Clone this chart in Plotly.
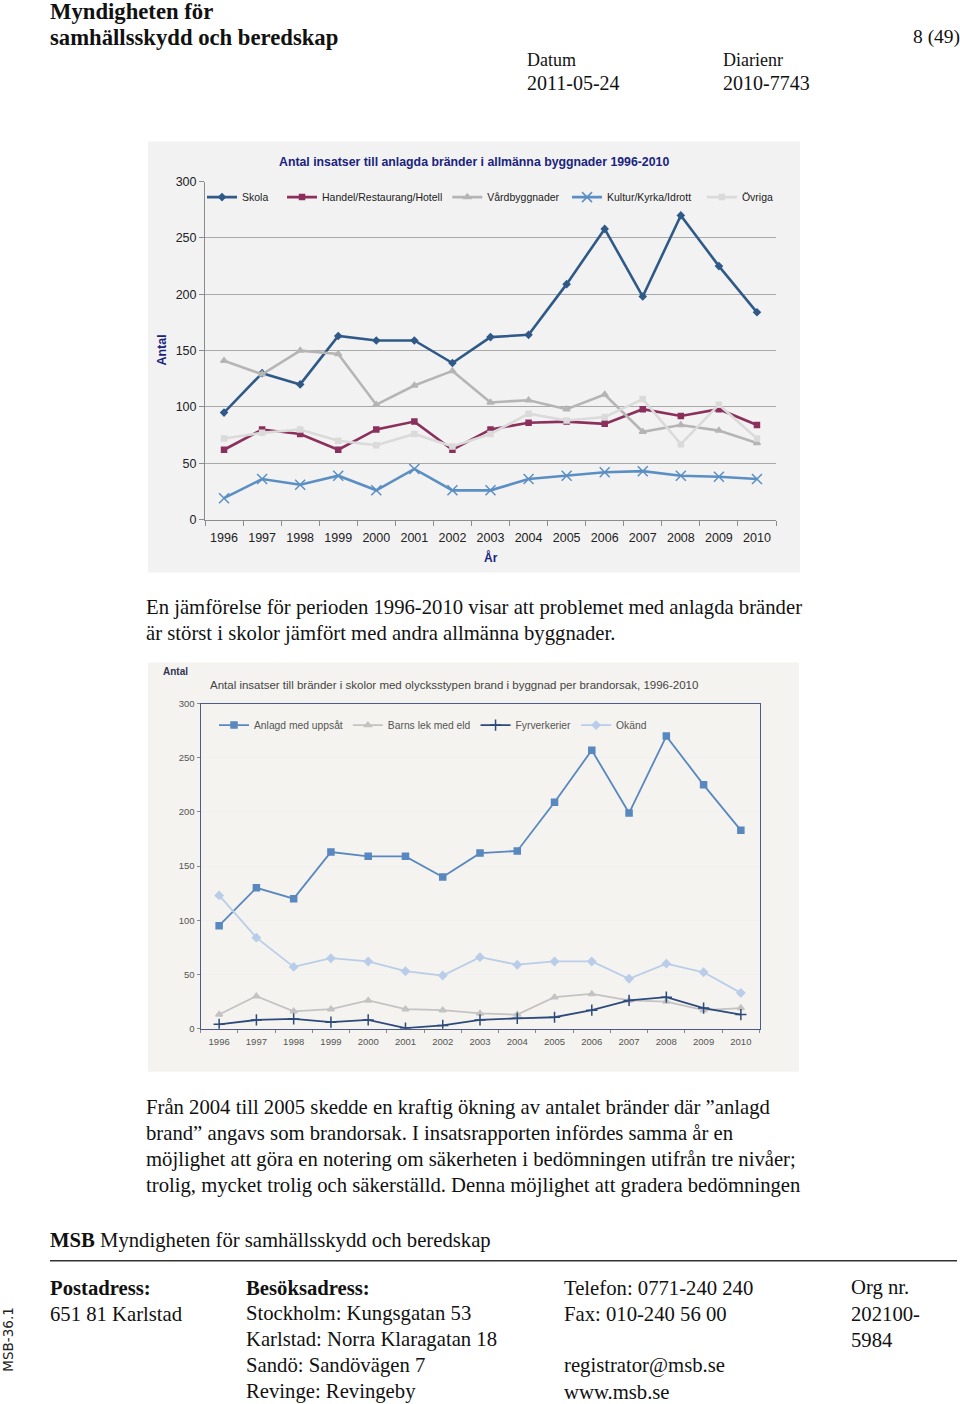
import plotly.graph_objects as go

W, H = 960, 1404

years = [str(y) for y in range(1996, 2011)]

# Chart 1: Antal insatser till anlagda bränder i allmänna byggnader
skola = [95, 130, 120, 163, 159, 159, 139, 162, 164, 209, 258, 198, 270, 225, 184]
handel = [62, 80, 76, 62, 80, 87, 62, 80, 86, 87, 85, 98, 92, 98, 84]
vard = [141, 129, 150, 147, 102, 119, 132, 104, 106, 98, 111, 78, 84, 79, 68]
kultur = [19, 36, 31, 39, 26, 45, 26, 26, 36, 39, 42, 43, 39, 38, 36]
ovriga = [72, 77, 80, 70, 66, 76, 65, 76, 94, 88, 91, 107, 67, 102, 72]

# Chart 2: skolor per brandorsak
anlagd = [95, 130, 120, 163, 159, 159, 140, 162, 164, 209, 257, 199, 270, 225, 183]
barns = [13, 30, 16, 18, 26, 18, 17, 14, 13, 29, 32, 26, 25, 17, 19]
fyrverkerier = [4, 8, 9, 6, 8, 0.5, 3, 8, 9.5, 10.5, 17, 26, 29, 19, 13]
okand = [123, 84, 57, 65, 62, 53, 49, 66, 59, 62, 62, 46, 60, 52, 33]

yticks = [0, 50, 100, 150, 200, 250, 300]

# the page photo is slightly squeezed vertically; compensate
YOFF, YSCALE = 6.4, 0.99


def px(x):
    return x / W


def py(y):
    return 1 - ((y - YOFF) / YSCALE) / H


SANS = "Liberation Sans, Arial, sans-serif"
SERIF = "Liberation Serif, Georgia, serif"
NB = "\u00a0"

fig = go.Figure()

series1 = [
    ("Skola" + NB * 3, skola, "#2f5a88", dict(symbol="diamond", size=5)),
    ("Handel/Restaurang/Hotell", handel, "#8b2f5c", dict(symbol="square", size=5)),
    ("Vårdbyggnader" + NB, vard, "#b5b5b5", dict(symbol="triangle-up", size=6)),
    ("Kultur/Kyrka/Idrott" + NB * 2, kultur, "#5b8fc4", dict(symbol="x-thin", size=10)),
    ("Övriga", ovriga, "#dadada", dict(symbol="square", size=5)),
]
for name, vals, col, mk in series1:
    mk = dict(mk, color=col, line=dict(color=col, width=1.5))
    fig.add_trace(go.Scatter(x=years, y=vals, name=name, mode="lines+markers",
                             line=dict(color=col, width=2.6), marker=mk,
                             xaxis="x", yaxis="y", legend="legend"))

series2 = [
    ("Anlagd med uppsåt", anlagd, "#5888bf", dict(symbol="square", size=6)),
    ("Barns lek med eld", barns, "#c3c3c3", dict(symbol="triangle-up", size=6)),
    ("Fyrverkerier", fyrverkerier, "#2d4a7c", dict(symbol="cross-thin", size=8)),
    ("Okänd", okand, "#b9cde9", dict(symbol="diamond", size=6)),
]
for name, vals, col, mk in series2:
    mk = dict(mk, color=col, line=dict(color=col, width=1.5))
    fig.add_trace(go.Scatter(x=years, y=vals, name=name, mode="lines+markers",
                             line=dict(color=col, width=1.8), marker=mk,
                             xaxis="x2", yaxis="y2", legend="legend2"))

shapes = [
    # chart panels
    dict(type="rect", xref="paper", yref="paper", x0=px(148), x1=px(800), y0=py(572), y1=py(141),
         fillcolor="#f2f2f2", line=dict(width=0), layer="below"),
    dict(type="rect", xref="paper", yref="paper", x0=px(148), x1=px(799), y0=py(1071), y1=py(662),
         fillcolor="#f4f3ef", line=dict(width=0), layer="below"),
    # footer rule
    dict(type="line", xref="paper", yref="paper", x0=px(50), x1=px(957), y0=py(1260), y1=py(1260),
         line=dict(color="#333333", width=1.5)),
]

ann = []


def text(x, y, s, size, font=SERIF, color="#111111", xanchor="left", bold=False, angle=0):
    if bold:
        s = "<b>" + s + "</b>"
    if xanchor == "left":
        x -= 2
    elif xanchor == "right":
        x += 2
    ann.append(dict(x=px(x), y=py(y), xref="paper", yref="paper", text=s, showarrow=False,
                    xanchor=xanchor, yanchor="middle", textangle=angle,
                    font=dict(family=font, size=size, color=color)))


BODY = 20.7

# header
text(50, 11, "Myndigheten för", 22.7, bold=True)
text(50, 37, "samhällsskydd och beredskap", 22.7, bold=True)
text(960, 36, "8 (49)", 19.5, xanchor="right")
text(527, 59, "Datum", 18)
text(527, 82, "2011-05-24", 20)
text(723, 59, "Diarienr", 18)
text(723, 82, "2010-7743", 20)

# chart 1 texts
text(474, 161, "Antal insatser till anlagda bränder i allmänna byggnader 1996-2010", 12.3,
     font=SANS, color="#1a237e", xanchor="center", bold=True)
text(162, 350, "Antal", 12.5, font=SANS, color="#1a237e", xanchor="center", bold=True, angle=-90)
text(491, 557, "År", 12, font=SANS, color="#1a237e", xanchor="center", bold=True)

# chart 2 texts
text(163, 671, "Antal", 10, font=SANS, color="#333355", bold=True)
text(210, 684, "Antal insatser till bränder i skolor med olycksstypen brand i byggnad per brandorsak, 1996-2010",
     11.5, font=SANS, color="#444444")

# body text
body1 = ["En jämförelse för perioden 1996-2010 visar att problemet med anlagda bränder",
         "är störst i skolor jämfört med andra allmänna byggnader."]
for i, s in enumerate(body1):
    text(146, 607 + 26 * i, s, BODY)
body2 = ["Från 2004 till 2005 skedde en kraftig ökning av antalet bränder där ”anlagd",
         "brand” angavs som brandorsak. I insatsrapporten infördes samma år en",
         "möjlighet att göra en notering om säkerheten i bedömningen utifrån tre nivåer;",
         "trolig, mycket trolig och säkerställd. Denna möjlighet att gradera bedömningen"]
for i, s in enumerate(body2):
    text(146, 1107 + 26 * i, s, BODY)

# footer
text(50, 1240, "<b>MSB</b> Myndigheten för samhällsskydd och beredskap", BODY)
text(50, 1287, "Postadress:", BODY, bold=True)
text(50, 1313, "651 81 Karlstad", BODY)
text(246, 1287, "Besöksadress:", BODY, bold=True)
for i, s in enumerate(["Stockholm: Kungsgatan 53", "Karlstad: Norra Klaragatan 18",
                       "Sandö: Sandövägen 7", "Revinge: Revingeby"]):
    text(246, 1313 + 26 * i, s, BODY)
text(564, 1287, "Telefon: 0771-240 240", BODY)
text(564, 1313, "Fax: 010-240 56 00", BODY)
text(564, 1365, "registrator@msb.se", BODY)
text(564, 1391, "www.msb.se", BODY)
text(851, 1287, "Org nr.", BODY)
text(851, 1313, "202100-", BODY)
text(851, 1339, "5984", BODY)
text(8, 1339, "MSB-36.1", 13.5, font="DejaVu Sans, sans-serif", color="#222", xanchor="center", angle=-90)

fig.update_layout(
    width=W, height=H, margin=dict(l=0, r=0, t=0, b=0),
    paper_bgcolor="white", plot_bgcolor="white",
    shapes=shapes, annotations=ann,
    xaxis=dict(domain=[px(205), px(776)], anchor="y", type="category", range=[-0.5, 14.5],
               showline=True, linecolor="#8c8c8c", linewidth=1, ticks="outside", tickson="boundaries",
               ticklen=5, tickcolor="#8c8c8c", showgrid=False, fixedrange=True, ticklabelstandoff=6,
               tickfont=dict(family=SANS, size=12.5, color="#222222")),
    yaxis=dict(domain=[py(519), py(181)], anchor="x", range=[0, 300], tickvals=yticks,
               showline=True, linecolor="#8c8c8c", ticks="outside", ticklen=5, tickcolor="#8c8c8c",
               showgrid=True, gridcolor="#a9a9a9", gridwidth=1, zeroline=False,
               tickfont=dict(family=SANS, size=12.5, color="#222222")),
    xaxis2=dict(domain=[px(200.5), px(759.5)], anchor="y2", type="category", range=[-0.5, 14.5],
                showline=True, mirror=True, linecolor="#4e5a86", linewidth=1, ticks="outside",
                tickson="boundaries", ticklen=3, tickcolor="#888", showgrid=False, ticklabelstandoff=4,
                tickfont=dict(family=SANS, size=9.5, color="#555555")),
    yaxis2=dict(domain=[py(1028), py(703)], anchor="x2", range=[0, 300], tickvals=yticks,
                showline=True, mirror=True, linecolor="#4e5a86", linewidth=1, ticks="outside",
                ticklen=3, tickcolor="#888", showgrid=True, gridcolor="#f0f0f0", zeroline=False,
                tickfont=dict(family=SANS, size=9.5, color="#555555")),
    legend=dict(orientation="h", x=px(202), y=py(182), xanchor="left", yanchor="top",
                bgcolor="rgba(0,0,0,0)", font=dict(family=SANS, size=10.5, color="#222"),
                itemwidth=30, tracegroupgap=0),
    legend2=dict(orientation="h", x=px(214), y=py(710), xanchor="left", yanchor="top",
                 bgcolor="rgba(0,0,0,0)", font=dict(family=SANS, size=10.3, color="#555"),
                 itemwidth=30),
    showlegend=True,
)

fig.write_html("out.html", config={"displayModeBar": False},
               post_script="document.body.style.margin='0';document.body.style.overflow='hidden';")
